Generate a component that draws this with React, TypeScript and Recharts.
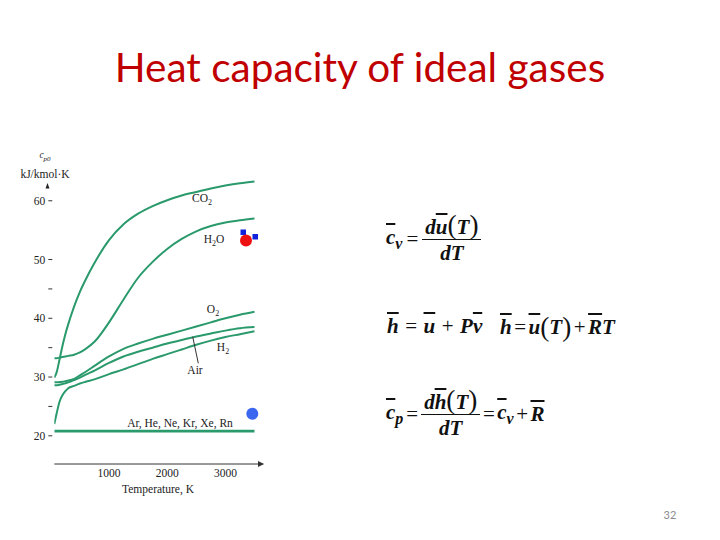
import React from "react";
import { Line, LineChart, XAxis, YAxis } from "recharts";

// temperature grid (K) and molar heat capacity cp0 (kJ/kmol·K)
const temps = [60, 100, 150, 200, 250, 300, 400, 500, 600, 750, 1000, 1250, 1500, 1750, 2000, 2250, 2500, 2750, 3000, 3250, 3500];
const co2 = [29.9, 30.8, 33.0, 35.3, 37.3, 39.0, 42.0, 44.5, 46.6, 49.4, 53.3, 56.0, 57.8, 59.1, 60.1, 60.9, 61.5, 62.1, 62.6, 63.0, 63.3];
const h2o = [33.2, 33.2, 33.3, 33.4, 33.5, 33.6, 33.8, 34.2, 34.8, 36.0, 39.3, 43.2, 46.9, 49.6, 51.8, 53.5, 54.8, 55.7, 56.3, 56.7, 57.0];
const o2 = [29.1, 29.1, 29.15, 29.2, 29.3, 29.4, 29.7, 30.3, 30.9, 31.9, 33.5, 34.8, 35.7, 36.5, 37.2, 37.9, 38.6, 39.3, 40.0, 40.6, 41.1];
const air = [28.6, 28.6, 28.7, 28.8, 28.95, 29.1, 29.5, 29.9, 30.4, 31.1, 32.4, 33.5, 34.3, 35.0, 35.7, 36.3, 36.9, 37.4, 37.9, 38.3, 38.5];
const h2 = [22.0, 23.8, 25.8, 26.9, 27.6, 28.1, 28.5, 28.9, 29.2, 29.6, 30.5, 31.3, 32.2, 33.1, 33.9, 34.7, 35.5, 36.2, 36.8, 37.3, 37.8];
const noble = [20.8, 20.8, 20.8, 20.8, 20.8, 20.8, 20.8, 20.8, 20.8, 20.8, 20.8, 20.8, 20.8, 20.8, 20.8, 20.8, 20.8, 20.8, 20.8, 20.8, 20.8];

const xTicks = [1000, 2000, 3000];
const yTicks = [20, 25, 30, 35, 40, 45, 50, 60];

const data = temps.map((T, i) => ({
  T,
  co2: co2[i],
  h2o: h2o[i],
  o2: o2[i],
  air: air[i],
  h2: h2[i],
  noble: noble[i],
}));

const GREEN = "#2a9a6c";
const SERIF = "'Liberation Serif', 'DejaVu Serif', serif";

const YTick = (props: any) => {
  const { x, y, payload } = props;
  return (
    <g>
      <line x1={x - 6} x2={x - 2} y1={y} y2={y} stroke="#333" strokeWidth={1} />
      {payload.value % 10 === 0 && (
        <text x={x - 9} y={y} dy="0.35em" textAnchor="end" fontFamily={SERIF} fontSize={11.5} fill="#222">
          {payload.value}
        </text>
      )}
    </g>
  );
};

const Bar = ({ children }: { children: React.ReactNode }) => (
  <span style={{ textDecoration: "overline", textDecorationThickness: 2 }}>{children}</span>
);

const Paren = ({ children }: { children: React.ReactNode }) => (
  <span style={{ fontSize: "1.3em", fontWeight: 400, fontStyle: "normal", lineHeight: 1 }}>{children}</span>
);

const Op = ({ children, gap = 4 }: { children: React.ReactNode; gap?: number }) => (
  <span style={{ margin: `0 ${gap}px`, fontStyle: "normal", fontWeight: 400 }}>{children}</span>
);

const Frac = ({ num, den }: { num: React.ReactNode; den: React.ReactNode }) => (
  <span style={{ display: "inline-flex", flexDirection: "column", alignItems: "center", verticalAlign: "middle" }}>
    <span style={{ padding: "0 3px", lineHeight: 1.1 }}>{num}</span>
    <span style={{ borderTop: "1.5px solid #111", alignSelf: "stretch", textAlign: "center", lineHeight: 1.25 }}>{den}</span>
  </span>
);

const eqStyle: React.CSSProperties = {
  position: "absolute",
  fontFamily: SERIF,
  fontWeight: 700,
  fontStyle: "italic",
  fontSize: 21,
  color: "#111",
  whiteSpace: "nowrap",
  display: "flex",
  alignItems: "center",
};

const lbl: React.CSSProperties = {
  position: "absolute",
  fontFamily: SERIF,
  fontSize: 11.5,
  color: "#222",
  whiteSpace: "nowrap",
  transform: "translate(-50%, -50%)",
  lineHeight: 1,
};

export default function App() {
  return (
    <div style={{ position: "absolute", left: 0, top: 0, width: 720, height: 540, background: "#fff", overflow: "hidden" }}>
      <div
        style={{
          position: "absolute",
          left: 0,
          width: 720,
          top: 42,
          textAlign: "center",
          fontFamily: "Lato, 'Open Sans', sans-serif",
          fontSize: 40.5,
          color: "#c00000",
        }}
      >
        Heat capacity of ideal gases
      </div>

      <div style={{ position: "absolute", left: 0, top: 0 }}>
        <LineChart width={300} height={500} data={data} margin={{ top: 171.4, right: 36.8, bottom: 6, left: 0 }}>
          <XAxis
            type="number"
            dataKey="T"
            domain={[60, 3650]}
            ticks={xTicks}
            allowDataOverflow
            tickLine={false}
            axisLine={{ stroke: "#333", strokeWidth: 1 }}
            tickSize={0}
            tickMargin={5}
            height={30}
            tick={{ fontFamily: SERIF, fontSize: 11.5, fill: "#222" }}
          />
          <YAxis
            type="number"
            domain={[15.2, 65]}
            ticks={yTicks}
            allowDataOverflow
            axisLine={false}
            tickLine={false}
            tickSize={0}
            tickMargin={0}
            width={54.3}
            tick={<YTick />}
          />
          <Line type="monotone" dataKey="noble" stroke={GREEN} strokeWidth={2.6} dot={false} isAnimationActive={false} />
          <Line type="monotone" dataKey="h2" stroke={GREEN} strokeWidth={2} dot={false} isAnimationActive={false} />
          <Line type="monotone" dataKey="air" stroke={GREEN} strokeWidth={2} dot={false} isAnimationActive={false} />
          <Line type="monotone" dataKey="o2" stroke={GREEN} strokeWidth={2} dot={false} isAnimationActive={false} />
          <Line type="monotone" dataKey="h2o" stroke={GREEN} strokeWidth={2} dot={false} isAnimationActive={false} />
          <Line type="monotone" dataKey="co2" stroke={GREEN} strokeWidth={2} dot={false} isAnimationActive={false} />
        </LineChart>
      </div>

      {/* axis decorations, pointer and the molecule icons */}
      <svg width={720} height={540} style={{ position: "absolute", left: 0, top: 0, pointerEvents: "none" }}>
        <polygon points="258,461 264,464 258,467" fill="#333" />
        <polygon points="45.5,188.5 47.5,183 49.5,188.5" fill="#222" />
        <line x1={192.7} y1={336.7} x2={198.3} y2={363.3} stroke="#333" strokeWidth={1} />
        <rect x={240.5} y={229.5} width={5.5} height={5.5} fill="#1122dd" />
        <rect x={252.5} y={234} width={5.5} height={5.5} fill="#1122dd" />
        <circle cx={246} cy={240.5} r={6} fill="#ee1111" />
        <circle cx={252.3} cy={413.8} r={6} fill="#3a66f0" />
      </svg>

      {/* y axis title */}
      <div style={{ ...lbl, left: 45, top: 157, fontSize: 9.5, fontStyle: "italic" }}>
        c<sub style={{ fontSize: 7 }}>p0</sub>
      </div>
      <div style={{ ...lbl, left: 45, top: 175, fontSize: 11.5 }}>kJ/kmol·K</div>
      <div style={{ ...lbl, left: 158, top: 490, fontSize: 11.5 }}>Temperature, K</div>

      {/* series labels */}
      <div style={{ ...lbl, left: 202, top: 200 }}>
        CO<sub style={{ fontSize: 8 }}>2</sub>
      </div>
      <div style={{ ...lbl, left: 214, top: 241 }}>
        H<sub style={{ fontSize: 8 }}>2</sub>O
      </div>
      <div style={{ ...lbl, left: 213, top: 311 }}>
        O<sub style={{ fontSize: 8 }}>2</sub>
      </div>
      <div style={{ ...lbl, left: 223, top: 349 }}>
        H<sub style={{ fontSize: 8 }}>2</sub>
      </div>
      <div style={{ ...lbl, left: 195, top: 371 }}>Air</div>
      <div style={{ ...lbl, left: 180, top: 424 }}>Ar, He, Ne, Kr, Xe, Rn</div>

      {/* equations */}
      <div style={{ ...eqStyle, left: 386, top: 212 }}>
        <span>
          <Bar>c</Bar>
          <sub style={{ fontSize: 16 }}>v</sub>
        </span>
        <Op>=</Op>
        <Frac
          num={
            <>
              d<Bar>u</Bar>
              <Paren>(</Paren>T<Paren>)</Paren>
            </>
          }
          den={<>dT</>}
        />
      </div>

      <div style={{ ...eqStyle, left: 387, top: 314 }}>
        <Bar>h</Bar>
        <Op gap={6.5}>=</Op>
        <Bar>u</Bar>
        <Op gap={6.5}>+</Op>
        P<Bar>v</Bar>
      </div>
      <div style={{ ...eqStyle, left: 500, top: 314 }}>
        <Bar>h</Bar>
        <Op gap={2.5}>=</Op>
        <Bar>u</Bar>
        <Paren>(</Paren>T<Paren>)</Paren>
        <Op gap={2.5}>+</Op>
        <Bar>R</Bar>T
      </div>

      <div style={{ ...eqStyle, left: 386, top: 387 }}>
        <span>
          <Bar>c</Bar>
          <sub style={{ fontSize: 16 }}>p</sub>
        </span>
        <Op gap={3}>=</Op>
        <Frac
          num={
            <>
              d<Bar>h</Bar>
              <Paren>(</Paren>T<Paren>)</Paren>
            </>
          }
          den={<>dT</>}
        />
        <Op gap={2.5}>=</Op>
        <span>
          <Bar>c</Bar>
          <sub style={{ fontSize: 16 }}>v</sub>
        </span>
        <Op gap={2.5}>+</Op>
        <Bar>R</Bar>
      </div>

      <div
        style={{
          position: "absolute",
          left: 660,
          top: 508,
          width: 20,
          textAlign: "center",
          fontFamily: "Lato, 'Open Sans', sans-serif",
          fontSize: 11,
          color: "#8c8c8c",
        }}
      >
        32
      </div>
    </div>
  );
}
